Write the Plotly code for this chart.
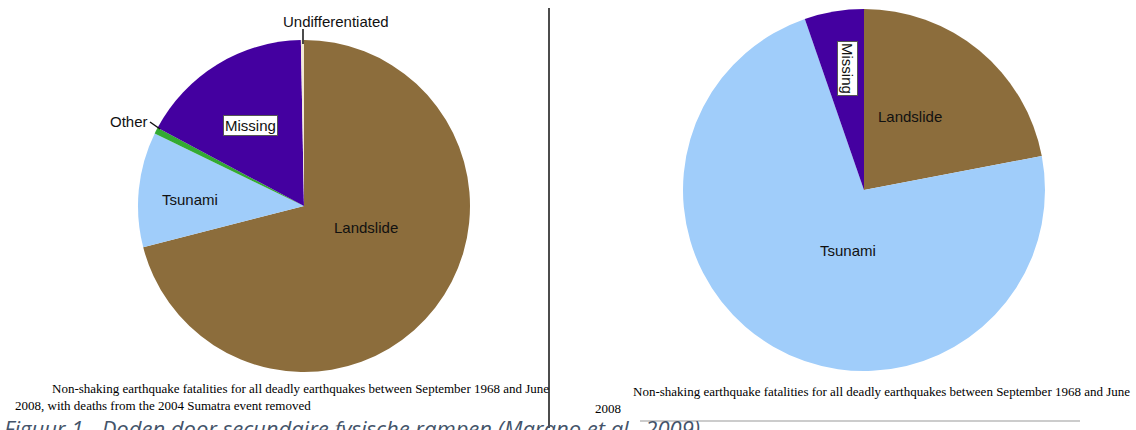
import plotly.graph_objects as go

W, H = 1136, 430

left_labels = ["Landslide", "Tsunami", "Other", "Missing", "Undifferentiated"]
left_values = [71.0, 11.2, 0.6, 16.9, 0.3]
left_colors = ["#8C6D3C", "#A0CDFA", "#33AA33", "#4400A0", "#F3E9D5"]

right_labels = ["Landslide", "Tsunami", "Missing"]
right_values = [22.0, 72.7, 5.3]
right_colors = ["#8C6D3C", "#A0CDFA", "#4400A0"]

caption_left_1 = "Non-shaking earthquake fatalities for all deadly earthquakes between September 1968 and June"
caption_left_2 = "2008, with deaths from the 2004 Sumatra event removed"
caption_right_1 = "Non-shaking earthquake fatalities for all deadly earthquakes between September 1968 and June"
caption_right_2 = "2008"
figure_caption = "Figuur 1 - Doden door secundaire fysische rampen (Marano et al., 2009)"


def px(x):
    return x / W


def py(y):
    return 1 - y / H


def dom(cx, cy, r):
    return dict(x=[px(cx - r), px(cx + r)], y=[py(cy + r), py(cy - r)])


fig = go.Figure()
fig.add_trace(go.Pie(
    labels=left_labels, values=left_values, sort=False, direction="clockwise",
    rotation=0, marker=dict(colors=left_colors, line=dict(width=0)),
    textinfo="none", hoverinfo="label+percent", showlegend=False,
    domain=dom(304, 206, 166),
))
fig.add_trace(go.Pie(
    labels=right_labels, values=right_values, sort=False, direction="clockwise",
    rotation=0, marker=dict(colors=right_colors, line=dict(width=0)),
    textinfo="none", hoverinfo="label+percent", showlegend=False,
    domain=dom(864, 190, 181),
))

lab_font = dict(family="Liberation Sans, Arial, sans-serif", size=15, color="#111111")
ann = []


def label(text, x, y, box=False, angle=0):
    d = dict(text=text, x=px(x), y=py(y), xref="paper", yref="paper",
             showarrow=False, font=lab_font, xanchor="center", yanchor="middle",
             textangle=angle)
    if box:
        d.update(bgcolor="white", bordercolor="#555555", borderwidth=1, borderpad=1)
    ann.append(d)


label("Landslide", 366, 227)
label("Tsunami", 190, 199)
label("Missing", 250, 125, box=True)
label("Other", 129, 122)
label("Undifferentiated", 336, 22)
label("Landslide", 910, 116)
label("Tsunami", 848, 250)
label("Missing", 847, 68, box=True, angle=90)

cap_font = dict(family="Liberation Serif, Times New Roman, serif", size=13, color="#000000")
for text, x, y in [(caption_left_1, 50, 388), (caption_left_2, 13, 405),
                   (caption_right_1, 631, 391), (caption_right_2, 593, 408)]:
    ann.append(dict(text=text, x=px(x), y=py(y), xref="paper", yref="paper",
                    showarrow=False, font=cap_font, xanchor="left", yanchor="middle"))

ann.append(dict(text="<i>" + figure_caption + "</i>", x=px(2), y=py(411),
                xref="paper", yref="paper", showarrow=False, xanchor="left", yanchor="top",
                font=dict(family="Open Sans, sans-serif", size=22, color="#44546A")))

shapes = [
    dict(type="line", xref="paper", yref="paper", x0=px(549), x1=px(549), y0=py(8), y1=py(428),
         line=dict(color="#111111", width=1.5)),
    dict(type="line", xref="paper", yref="paper", x0=px(640), x1=px(1080), y0=py(421), y1=py(421),
         line=dict(color="#999999", width=1)),
    dict(type="line", xref="paper", yref="paper", x0=px(150), x1=px(160), y0=py(122), y1=py(129),
         line=dict(color="#111111", width=1.5)),
    dict(type="line", xref="paper", yref="paper", x0=px(303), x1=px(303), y0=py(29), y1=py(44),
         line=dict(color="#111111", width=1.5)),
]

fig.update_layout(
    width=W, height=H, margin=dict(l=0, r=0, t=0, b=0),
    paper_bgcolor="white", plot_bgcolor="white",
    annotations=ann, shapes=shapes,
)

fig.write_html("out.html")
